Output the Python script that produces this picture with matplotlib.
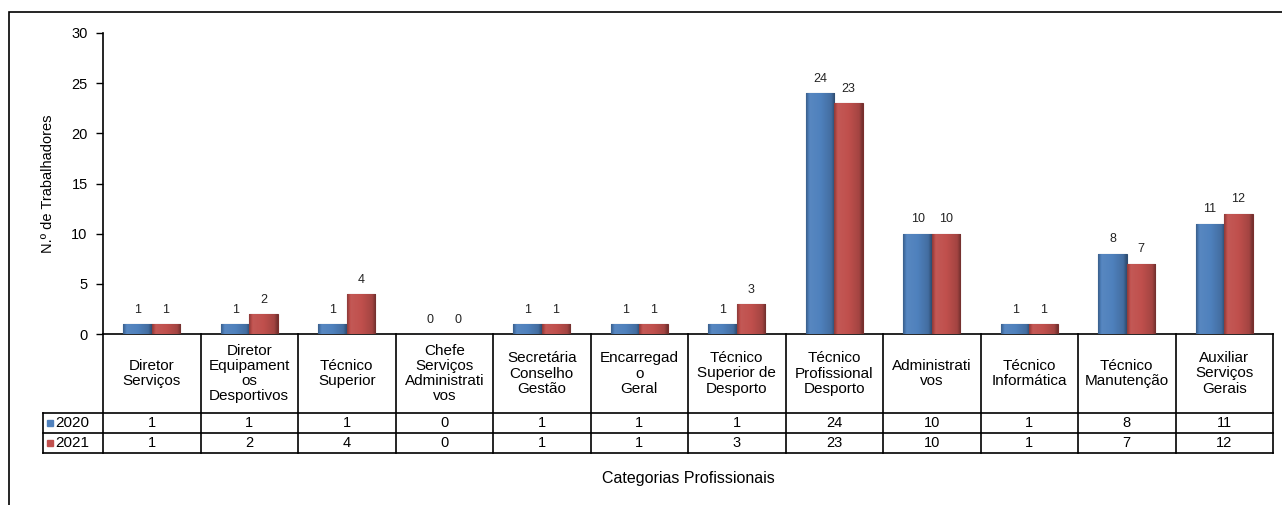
import numpy as np
import matplotlib
matplotlib.use("Agg")
import matplotlib.pyplot as plt
import matplotlib.transforms as mtransforms
from matplotlib.patches import Rectangle
from matplotlib.colors import to_rgb

plt.rcParams["font.family"] = ["Liberation Sans", "DejaVu Sans"]

# ── Data ──
categories = [
    "Diretor\nServiços",
    "Diretor\nEquipament\nos\nDesportivos",
    "Técnico\nSuperior",
    "Chefe\nServiços\nAdministrati\nvos",
    "Secretária\nConselho\nGestão",
    "Encarregad\no\nGeral",
    "Técnico\nSuperior de\nDesporto",
    "Técnico\nProfissional\nDesporto",
    "Administrati\nvos",
    "Técnico\nInformática",
    "Técnico\nManutenção",
    "Auxiliar\nServiços\nGerais",
]
values_2020 = [1, 1, 1, 0, 1, 1, 1, 24, 10, 1, 8, 11]
values_2021 = [1, 2, 4, 0, 1, 1, 3, 23, 10, 1, 7, 12]
series_names = ["2020", "2021"]
yticks = [0, 5, 10, 15, 20, 25, 30]

colors = ["#4F81BD", "#C0504D"]
edge_colors = ["#2C4D75", "#7A2E2C"]


def shade(color, f):
    c = np.array(to_rgb(color))
    if f >= 1:
        return c + (1 - c) * (f - 1)
    return c * f


def bevel(ax, bar, color):
    # horizontal gradient to fake the Excel bevel look
    x0, y0 = bar.get_x(), bar.get_y()
    w, h = bar.get_width(), bar.get_height()
    if h <= 0:
        return
    t = np.linspace(0, 1, 40)
    prof = np.interp(t, [0, 0.12, 0.5, 0.88, 1], [0.75, 1.05, 1.0, 0.85, 0.6])
    img = np.array([shade(color, f) for f in prof])[None, :, :]
    im = ax.imshow(img, extent=(x0, x0 + w, y0, y0 + h), aspect="auto",
                   zorder=bar.get_zorder() + 0.1, interpolation="bilinear")
    im.set_clip_path(bar)


fig = plt.figure(figsize=(12.82, 5.05), dpi=100)
W, H = 1282, 505
ax = fig.add_axes([103 / W, 1 - 334 / H, (1273 - 103) / W, (334 - 33) / H])

x = np.arange(len(categories))
bw = 0.29
for i, (vals, col, ec) in enumerate(zip([values_2020, values_2021], colors, edge_colors)):
    offs = (i - 0.5) * bw
    bars = ax.bar(x + offs, vals, bw, color=col, edgecolor=ec, linewidth=0.8, zorder=3)
    for b in bars:
        bevel(ax, b, col)
    for xi, v in zip(x + offs, vals):
        ax.annotate(str(v), (xi, v), xytext=(0, 6), textcoords="offset points",
                    ha="center", va="bottom", fontsize=9, color="#222222")

ax.set_xlim(-0.5, len(categories) - 0.5)
ax.set_ylim(0, 30)
ax.set_yticks(yticks)
ax.tick_params(axis="y", labelsize=10.5, length=5, width=1, pad=6)
ax.set_xticks([])
for s in ["top", "right"]:
    ax.spines[s].set_visible(False)
ax.spines["left"].set_linewidth(1.2)
ax.spines["bottom"].set_linewidth(1.2)
ax.set_ylabel("N.º de Trabalhadores", fontsize=10.5, labelpad=12)

# ── Data table under the axis ──
tr = mtransforms.blended_transform_factory(ax.transData, ax.transAxes)
ah = 334 - 33
y_hdr = (334 - 413) / ah
y_r1 = (334 - 433) / ah
y_r2 = (334 - 453) / ah
x_leg = -0.5 + (43 - 103) / ((1273 - 103) / len(categories))
x_end = len(categories) - 0.5
lk = dict(color="black", lw=1.2, transform=tr, clip_on=False)

for k in range(len(categories) + 1):
    ax.plot([k - 0.5, k - 0.5], [0, y_r2], **lk)
ax.plot([x_leg, x_leg], [y_hdr, y_r2], **lk)
for yy in [y_hdr, y_r1, y_r2]:
    ax.plot([x_leg, x_end], [yy, yy], **lk)

for xi, cat in zip(x, categories):
    ax.text(xi, y_hdr / 2, cat, transform=tr, ha="center", va="center",
            fontsize=11, linespacing=1.1)
for row_y, vals in [((y_hdr + y_r1) / 2, values_2020), ((y_r1 + y_r2) / 2, values_2021)]:
    for xi, v in zip(x, vals):
        ax.text(xi, row_y, str(v), transform=tr, ha="center", va="center", fontsize=10.5)

for row_y, name, col in [((y_hdr + y_r1) / 2, series_names[0], colors[0]),
                         ((y_r1 + y_r2) / 2, series_names[1], colors[1])]:
    ax.plot([x_leg + 0.07], [row_y], marker="s", ms=5, color=col, transform=tr, clip_on=False)
    ax.text(x_leg + 0.13, row_y, name, transform=tr, ha="left", va="center", fontsize=11)

fig.text(688 / W, 1 - 478 / H, "Categorias Profissionais", ha="center", va="center", fontsize=11.5)

# outer frame (cut at right and bottom like the screenshot)
fig.patches.append(Rectangle((9 / W, -0.1), 1.1, 1 - 12 / H + 0.1, transform=fig.transFigure,
                             fill=False, edgecolor="black", linewidth=1.2))

fig.savefig("out.png", dpi=100)
